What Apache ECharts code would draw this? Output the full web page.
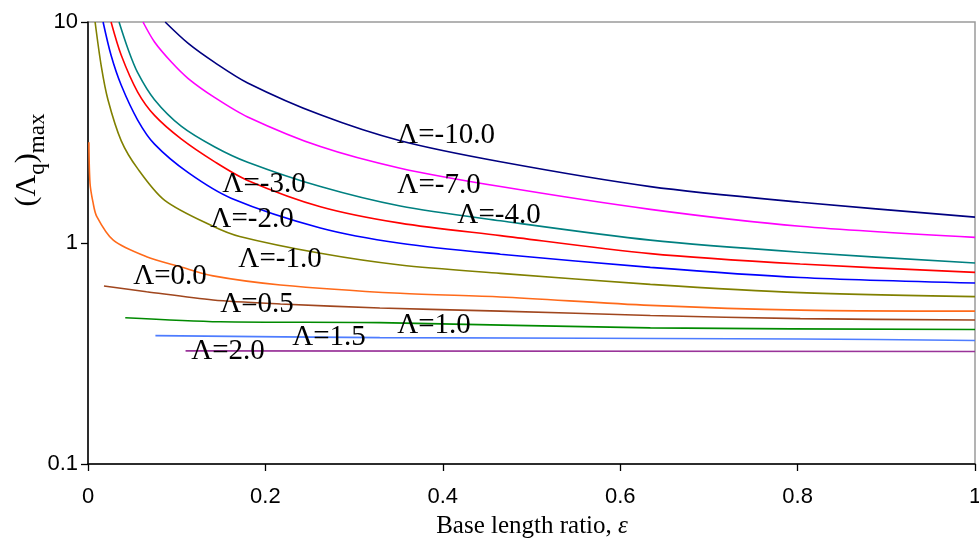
<!DOCTYPE html>
<html>
<head>
<meta charset="utf-8">
<title>(Λq)max vs base length ratio</title>
<script src="https://cdn.jsdelivr.net/npm/echarts@6/dist/echarts.min.js"></script>
<style>
  html, body { margin: 0; padding: 0; background: #fff; overflow: hidden; }
  #chart { width: 979px; height: 546px; }
</style>
</head>
<body>
<div id="chart"></div>
<script>
// Base length ratio ε (x) against (Λq)max (y, log scale), one curve per Λ.
const xTicks = [0, 0.2, 0.4, 0.6, 0.8, 1];
const yTicks = [0.1, 1, 10];

const curveNames = ['Λ=-10.0', 'Λ=-7.0', 'Λ=-4.0', 'Λ=-3.0', 'Λ=-2.0', 'Λ=-1.0',
                    'Λ=0.0', 'Λ=0.5', 'Λ=1.0', 'Λ=1.5', 'Λ=2.0'];

const lamM10 = [[0.087, 10], [0.113, 8.0], [0.143, 6.55], [0.180, 5.3], [0.262, 3.8],
                [0.352, 2.9], [0.465, 2.33], [0.634, 1.80], [0.803, 1.53], [1.0, 1.31]];
const lamM7 = [[0.062, 10], [0.075, 8.12], [0.094, 6.59], [0.113, 5.55], [0.143, 4.55],
               [0.180, 3.72], [0.262, 2.73], [0.352, 2.18], [0.465, 1.80], [0.634, 1.42],
               [0.803, 1.19], [1.0, 1.06]];
const lamM4 = [[0.035, 10], [0.045, 7.57], [0.056, 5.9], [0.075, 4.45], [0.105, 3.38],
               [0.143, 2.72], [0.180, 2.32], [0.262, 1.80], [0.352, 1.47], [0.465, 1.26],
               [0.634, 1.03], [0.803, 0.908], [1.0, 0.812]];
const lamM3 = [[0.026, 10], [0.0375, 7.07], [0.056, 4.82], [0.075, 3.78], [0.105, 2.96],
               [0.143, 2.33], [0.180, 1.92], [0.262, 1.46], [0.352, 1.23], [0.465, 1.08],
               [0.634, 0.895], [0.803, 0.803], [1.0, 0.736]];
const lamM2 = [[0.017, 10], [0.026, 7.07], [0.0375, 5.17], [0.056, 3.60], [0.075, 2.80],
               [0.113, 2.08], [0.162, 1.59], [0.262, 1.17], [0.352, 0.997], [0.465, 0.89],
               [0.634, 0.776], [0.803, 0.698], [1.0, 0.659]];
const lamM1 = [[0.008, 10], [0.015, 6.3], [0.0225, 4.45], [0.0375, 2.90], [0.056, 2.17],
               [0.0865, 1.56], [0.141, 1.19], [0.171, 1.07], [0.262, 0.898], [0.352, 0.795],
               [0.465, 0.729], [0.634, 0.650], [0.803, 0.596], [1.0, 0.572]];
const lam0 = [[0.001, 2.86], [0.0023, 1.86], [0.0056, 1.53], [0.0098, 1.32], [0.0285, 1.03],
              [0.066, 0.867], [0.104, 0.781], [0.141, 0.710], [0.217, 0.646], [0.352, 0.592],
              [0.465, 0.570], [0.634, 0.522], [0.803, 0.497], [1.0, 0.492]];
const lam05 = [[0.018, 0.639], [0.066, 0.602], [0.141, 0.552], [0.217, 0.530], [0.329, 0.508],
               [0.465, 0.492], [0.634, 0.470], [0.803, 0.455], [1.0, 0.448]];
const lam1 = [[0.042, 0.459], [0.149, 0.440], [0.329, 0.436], [0.634, 0.413], [1.0, 0.406]];
const lam15 = [[0.076, 0.381], [0.329, 0.373], [0.803, 0.368], [1.0, 0.362]];
const lam2 = [[0.110, 0.325], [1.0, 0.323]];

const curveData = [lamM10, lamM7, lamM4, lamM3, lamM2, lamM1, lam0, lam05, lam1, lam15, lam2];
const curveColors = ['#000080', '#FF00FF', '#008080', '#FF0000', '#0000FF', '#808000',
                     '#FF6A1A', '#A0461E', '#008A00', '#4D7CFF', '#993399'];

// in-plot curve labels (pixel centres)
const labelSpots = [[446, 135], [439, 185], [499, 215], [264, 184], [252, 219], [280, 259],
                    [170, 276], [257, 304], [434, 325], [329, 337], [228, 351]];

const serif = '"Liberation Serif", "Times New Roman", serif';
const sans = '"Liberation Sans", Arial, sans-serif';

const chart = echarts.init(document.getElementById('chart'), null, { renderer: 'canvas' });

const series = curveData.map((d, i) => ({
  name: curveNames[i],
  type: 'line',
  data: d,
  showSymbol: false,
  symbol: 'none',
  smooth: 0.3,
  clip: true,
  lineStyle: { color: curveColors[i], width: 1.6 },
  z: 2
}));

const graphics = curveNames.map((t, i) => ({
  type: 'text',
  x: labelSpots[i][0],
  y: labelSpots[i][1],
  z: 10,
  style: {
    text: t,
    fontFamily: serif,
    fontSize: 29,
    fill: '#000',
    align: 'center',
    verticalAlign: 'middle'
  }
}));

// y-axis title with subscripts, rotated
graphics.push({
  type: 'text',
  x: 31,
  y: 160,
  rotation: Math.PI / 2,
  z: 10,
  style: {
    text: '{m|(Λ}{s|q}{m|)}{s|max}',
    align: 'center',
    verticalAlign: 'middle',
    rich: {
      m: { fontFamily: serif, fontSize: 30, fill: '#000', verticalAlign: 'bottom', padding: [0, 0, 7, 0] },
      s: { fontFamily: serif, fontSize: 23, fill: '#000', verticalAlign: 'bottom' }
    }
  }
});

// x-axis title
graphics.push({
  type: 'text',
  x: 532,
  y: 526,
  z: 10,
  style: {
    text: '{n|Base length ratio, }{i|ε}',
    align: 'center',
    verticalAlign: 'middle',
    rich: {
      n: { fontFamily: serif, fontSize: 25, fill: '#000' },
      i: { fontFamily: serif, fontSize: 25, fontStyle: 'italic', fill: '#000' }
    }
  }
});

chart.setOption({
  animation: false,
  backgroundColor: '#fff',
  grid: {
    left: 88, right: 4, top: 22, bottom: 82,
    outerBoundsMode: 'none',
    containLabel: false,
    show: true, borderColor: '#9a9a9a', borderWidth: 1.5, backgroundColor: 'transparent'
  },
  xAxis: {
    type: 'value',
    min: xTicks[0],
    max: xTicks[xTicks.length - 1],
    interval: 0.2,
    axisLine: { lineStyle: { color: '#000', width: 1.5 } },
    axisTick: { show: true, length: 7, lineStyle: { color: '#000', width: 1.3 } },
    axisLabel: {
      margin: 22,
      fontFamily: sans, fontSize: 22, color: '#000',
      hideOverlap: false,
      formatter: v => { const t = xTicks.find(k => Math.abs(k - v) < 1e-9); return t === undefined ? '' : String(t); }
    },
    splitLine: { show: false }
  },
  yAxis: {
    type: 'log',
    logBase: 10,
    min: yTicks[0],
    max: yTicks[yTicks.length - 1],
    axisLine: { show: true, lineStyle: { color: '#000', width: 1.5 } },
    axisTick: { show: true, length: 7, lineStyle: { color: '#000', width: 1.3 } },
    axisLabel: {
      margin: 10,
      fontFamily: sans, fontSize: 22, color: '#000',
      formatter: v => { const t = yTicks.find(k => Math.abs(k - v) / k < 1e-6); return t === undefined ? '' : String(t); }
    },
    splitLine: { show: false },
    minorTick: { show: false }
  },
  series: series,
  graphic: graphics
});
</script>
</body>
</html>
